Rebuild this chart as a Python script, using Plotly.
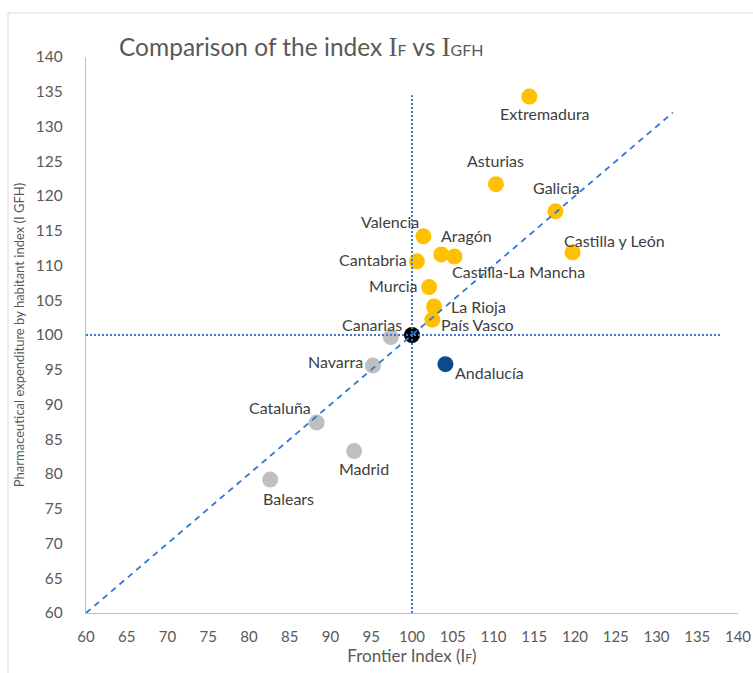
import plotly.graph_objects as go

# ---- data ----
regions = ["Extremadura", "Asturias", "Galicia", "Castilla y León", "Valencia", "Aragón",
           "Castilla-La Mancha", "Cantabria", "Murcia", "La Rioja", "País Vasco",
           "Canarias", "Navarra", "Cataluña", "Madrid", "Balears", "Andalucía"]
frontier_index = [114.4, 110.3, 117.6, 119.7, 101.4, 103.6, 105.2, 100.6, 102.1, 102.7, 102.5,
                  97.4, 95.2, 88.3, 92.9, 82.6, 104.1]
expenditure_index = [134.3, 121.7, 117.8, 111.9, 114.2, 111.6, 111.3, 110.6, 106.9, 104.1, 102.2,
                     99.7, 95.6, 87.4, 83.3, 79.2, 95.8]
group = ["high"] * 11 + ["low"] * 5 + ["andalucia"]
reference_x = [100]
reference_y = [100]
diagonal_x = [60, 132]
diagonal_y = [60, 132]
vline_x = [100, 100]
vline_y = [60, 134.5]
hline_x = [60, 138]
hline_y = [100, 100]
x_ticks = list(range(60, 141, 5))
y_ticks = list(range(60, 141, 5))

# ---- styling ----
colors = {"high": "#FFC000", "low": "#BFBFBF", "andalucia": "#0B4A8B"}
# label offsets in pixels (dx, dy up-positive)
label_offsets = {
    "Extremadura": (16, -17), "Asturias": (0, 24), "Galicia": (1, 24),
    "Castilla y León": (42, 12), "Valencia": (-33, 15), "Aragón": (25, 19),
    "Castilla-La Mancha": (64, -15), "Cantabria": (-44, 2), "Murcia": (-36, 2),
    "La Rioja": (44, 0), "País Vasco": (45, -5), "Canarias": (-19, 13),
    "Navarra": (-37, 4), "Cataluña": (-37, 15), "Madrid": (10, -17),
    "Balears": (18, -19), "Andalucía": (44, -8),
}
font_family = "Lato, Open Sans, sans-serif"
text_color = "#595959"

fig = go.Figure()

for g in ["high", "low", "andalucia"]:
    xs = [x for x, gg in zip(frontier_index, group) if gg == g]
    ys = [y for y, gg in zip(expenditure_index, group) if gg == g]
    fig.add_trace(go.Scatter(x=xs, y=ys, mode="markers",
                             marker=dict(size=16, color=colors[g]),
                             showlegend=False, hoverinfo="skip"))

fig.add_trace(go.Scatter(x=reference_x, y=reference_y, mode="markers",
                         marker=dict(size=16, color="#000000"), showlegend=False))

fig.add_trace(go.Scatter(x=diagonal_x, y=diagonal_y, mode="lines",
                         line=dict(color="#2F77D4", width=1.8, dash="6px,5px"),
                         showlegend=False))
fig.add_trace(go.Scatter(x=vline_x, y=vline_y, mode="lines",
                         line=dict(color="#3E78CC", width=2, dash="2px,2px"),
                         showlegend=False))
fig.add_trace(go.Scatter(x=hline_x, y=hline_y, mode="lines",
                         line=dict(color="#3E78CC", width=2, dash="2px,2px"),
                         showlegend=False))

for name, x, y in zip(regions, frontier_index, expenditure_index):
    dx, dy = label_offsets[name]
    fig.add_annotation(x=x, y=y, text=name, showarrow=False, xshift=dx, yshift=dy,
                       font=dict(family=font_family, size=16, color="#404040"))

serif_I = "<span style='font-family:Liberation Serif;font-size:27px'>I</span>"
title_text = ("Comparison of the index " + serif_I + "<span style='font-size:16px'>F</span> vs "
              + serif_I + "<span style='font-size:16px'>GFH</span>")

fig.update_layout(
    width=753, height=673,
    margin=dict(l=86, r=15, t=57, b=60, autoexpand=False),
    paper_bgcolor="white", plot_bgcolor="white",
    font=dict(family=font_family, color=text_color),
    title=dict(text=title_text, xref="container", x=119 / 753, xanchor="left",
               y=1 - 47 / 673, yanchor="middle",
               font=dict(size=24.5, color=text_color)),
    xaxis=dict(range=[60, 140], tickvals=x_ticks, showgrid=False, zeroline=False,
               showline=True, linecolor="#BFBFBF", linewidth=1.2, ticks="",
               automargin=False,
               ticklabelstandoff=10, tickfont=dict(size=15, color=text_color),
               title=dict(text="Frontier Index (I<span style='font-size:12px'>F</span>)",
                          font=dict(size=17, color=text_color), standoff=4)),
    yaxis=dict(range=[60, 140], tickvals=y_ticks, showgrid=False, zeroline=False,
               showline=True, linecolor="#BFBFBF", linewidth=1.2, ticks="",
               automargin=False,
               ticklabelstandoff=19, tickfont=dict(size=15.5, color=text_color),
               title=dict(text="Pharmaceutical expenditure by habitant index (I GFH)",
                          font=dict(size=13, color=text_color), standoff=8)),
    shapes=[dict(type="rect", xref="paper", yref="paper",
                 x0=(8 - 86) / 652, x1=(770 - 86) / 652,
                 y0=(613 - 690) / 556, y1=(613 - 13) / 556,
                 line=dict(color="#D9D9D9", width=1), fillcolor="rgba(0,0,0,0)",
                 layer="below")],
)

fig.write_html("out.html", config={"displayModeBar": False},
               post_script="document.body.style.margin='0';document.body.style.overflow='hidden';")
